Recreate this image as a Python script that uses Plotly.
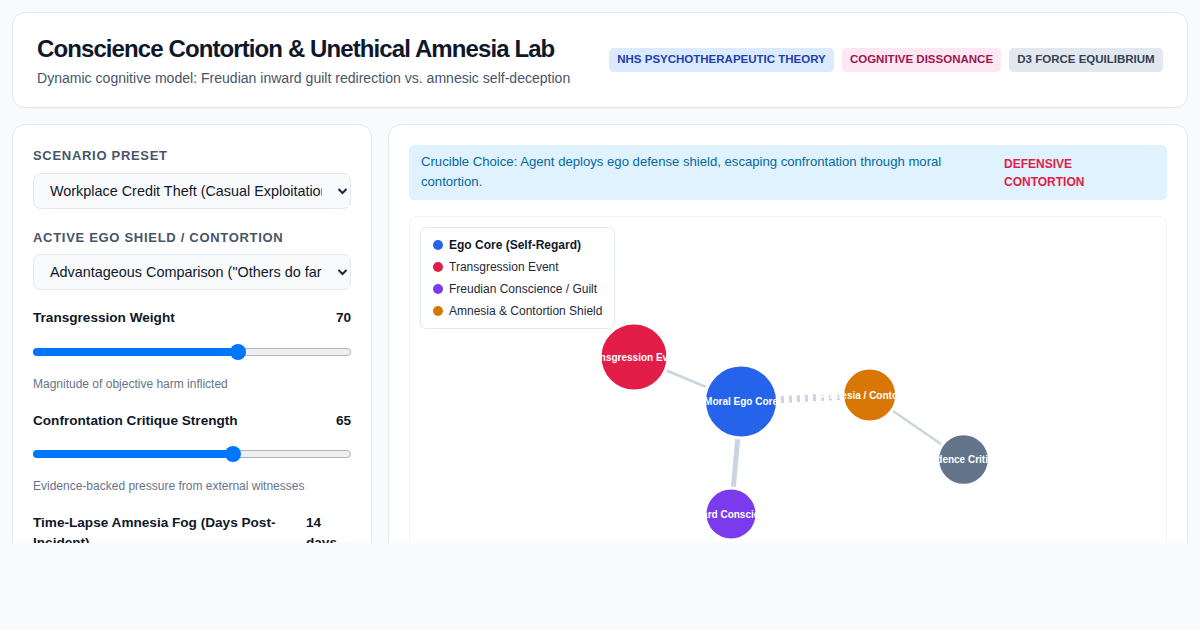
import json
import plotly.graph_objects as go

FONT = "Liberation Sans"
W, H, CUT = 1200, 630, 543

# page text
title = "Conscience Contortion & Unethical Amnesia Lab"
subtitle = "Dynamic cognitive model: Freudian inward guilt redirection vs. amnesic self-deception"
badge_labels = ["NHS PSYCHOTHERAPEUTIC THEORY", "COGNITIVE DISSONANCE", "D3 FORCE EQUILIBRIUM"]
select_labels = ["SCENARIO PRESET", "ACTIVE EGO SHIELD / CONTORTION"]
select_values = ["Workplace Credit Theft (Casual Exploitation)", "Advantageous Comparison (\"Others do far"]
slider_labels = ["Transgression Weight", "Confrontation Critique Strength"]
slider_values = ["70", "65"]
slider_notes = ["Magnitude of objective harm inflicted", "Evidence-backed pressure from external witnesses"]
banner_lines = ["Crucible Choice: Agent deploys ego defense shield, escaping confrontation through moral", "contortion."]
verdict_lines = ["DEFENSIVE", "CONTORTION"]

# network
legend_names = ["Ego Core (Self-Regard)", "Transgression Event", "Freudian Conscience / Guilt", "Amnesia & Contortion Shield"]
legend_colors = ["#2563eb", "#e11d48", "#7c3aed", "#d97706"]
node_names = ["Moral Ego Core", "Transgression Event", "Inward Conscience", "Amnesia / Contortion", "Evidence Critique"]
node_x = [741, 634, 731, 869.7, 963.5]
node_y = [401.5, 357, 514, 395, 459.5]
node_radius = [35, 32.5, 24.5, 25.5, 24.3]
node_colors = ["#2563eb", "#e11d48", "#7c3aed", "#d97706", "#64748b"]
edge_source = [1, 0, 0, 3]
edge_target = [0, 2, 3, 4]
edge_width = [2.5, 5, 7, 2.5]
edge_dash = ["solid", "solid", "3px,5px", "solid"]

# css letter spacing that plotly has no font setting for
spacing = {title: -0.9, select_labels[0]: 0.7, select_labels[1]: 0.7}


def rrect(x0, y0, x1, y1, r, fill, line=None, lw=1, layer="between"):
    path = (f"M{x0+r},{y0} L{x1-r},{y0} Q{x1},{y0} {x1},{y0+r} L{x1},{y1-r} Q{x1},{y1} {x1-r},{y1} "
            f"L{x0+r},{y1} Q{x0},{y1} {x0},{y1-r} L{x0},{y0+r} Q{x0},{y0} {x0+r},{y0} Z")
    return dict(type="path", path=path, xref="x", yref="y", fillcolor=fill, layer=layer,
                line=dict(color=line, width=lw if line else 0))


fig = go.Figure()
shapes = []


def add_text(x, y, text, size, color, bold=False, pos="middle right"):
    fig.add_trace(go.Scatter(x=[x], y=[y], mode="text", text=[text], textposition=pos,
                             textfont=dict(family=FONT, size=size, color=color, weight=700 if bold else 400),
                             hoverinfo="skip", showlegend=False))


# cards, with a faint shadow under each
for x0, y0, x1, y1 in [(12.5, 12.5, 1187.5, 107.5), (12.5, 124.5, 371.5, 700), (388.5, 124.5, 1187.5, 700)]:
    shapes.append(rrect(x0, y0 + 1, x1, y1 + 1, 14, "rgba(15,23,42,0.05)"))
    shapes.append(rrect(x0, y0, x1, y1, 14, "#ffffff", "#e2e8f0"))

# header
add_text(37, 50.5, title, 24, "#0f172a", True)
add_text(37, 79, subtitle, 14.05, "#475569")
badge_x = [(609, 834), (842, 1001), (1009, 1163)]
badge_fill = ["#dbeafe", "#fce7f3", "#e2e8f0"]
badge_ink = ["#1e40af", "#9d174d", "#334155"]
for (x0, x1), lab, fill, ink in zip(badge_x, badge_labels, badge_fill, badge_ink):
    shapes.append(rrect(x0, 48, x1, 72, 5, fill))
    add_text((x0 + x1) / 2, 60, lab, 11.5, ink, True, "middle center")

# dropdowns
for lab, val, ly, y0 in zip(select_labels, select_values, [156.5, 238.5], [173, 254]):
    add_text(33, ly, lab, 13, "#475569", True)
    shapes.append(rrect(33.5, y0 + 0.5, 350.5, y0 + 35.5, 8, "#f8fafc", "#e2e8f0"))
    add_text(50, y0 + 19.5, val, 14.4, "#0f172a")
    # the native select cuts its text off before the arrow
    shapes.append(dict(type="rect", x0=322, x1=349, y0=y0 + 2, y1=y0 + 34, xref="x", yref="y",
                       fillcolor="#f8fafc", line=dict(width=0), layer="above"))
    cy = y0 + 18
    shapes.append(dict(type="path", path=f"M338.5,{cy-2} L342.5,{cy+2} L346.5,{cy-2}", xref="x", yref="y",
                       line=dict(color="#1e293b", width=2), layer="above"))

# sliders
thumb_x = [238, 233]
for lab, val, note, tx, ly, ty, ny in zip(slider_labels, slider_values, slider_notes, thumb_x,
                                          [318.5, 421.5], [352, 454], [384.5, 487]):
    add_text(33, ly, lab, 13.6, "#0f172a", True)
    add_text(351, ly, val, 13.6, "#0f172a", True, "middle left")
    shapes.append(rrect(33.5, ty - 3.5, 350.5, ty + 3.5, 3.5, "#efefef", "#b2b2b2"))
    shapes.append(rrect(33, ty - 4, tx, ty + 4, 4, "#0075ff"))
    shapes.append(dict(type="circle", x0=tx - 8, x1=tx + 8, y0=ty - 8, y1=ty + 8, xref="x", yref="y",
                       fillcolor="#0075ff", line=dict(width=0), layer="between"))
    add_text(33, ny, note, 12, "#64748b")
add_text(33, 524, "Time-Lapse Amnesia Fog (Days Post-", 13.6, "#0f172a", True)
add_text(33, 543.5, "Incident)", 13.6, "#0f172a", True)
add_text(306, 524, "14", 13.6, "#0f172a", True)
add_text(306, 543.5, "days", 13.6, "#0f172a", True)

# banner
shapes.append(rrect(409, 145, 1167, 200, 6, "#e0f2fe"))
for line, y in zip(banner_lines, [163, 183]):
    add_text(421, y, line, 13.13, "#0369a1")
for line, y in zip(verdict_lines, [164.5, 182.5]):
    add_text(1004, y, line, 12, "#e11d48", True)

# graph box and legend box
shapes.append(rrect(409.5, 216.5, 1166.5, 700, 8, "#ffffff", "#f1f5f9"))
shapes.append(rrect(420.5, 227.5, 614.5, 328.5, 6, "#ffffff", "#e2e8f0"))
legend_y = [245, 267, 289, 311]
fig.add_trace(go.Scatter(x=[438] * 4, y=legend_y, mode="markers", hoverinfo="skip", showlegend=False,
                         marker=dict(size=10, color=legend_colors, line=dict(width=0))))
for i, (name, y) in enumerate(zip(legend_names, legend_y)):
    add_text(449, y + 0.5, name, 12, "#0f172a" if i == 0 else "#1e293b", i == 0)

# edges go first so the nodes and their white labels sit on top
for s, t, w, d in zip(edge_source, edge_target, edge_width, edge_dash):
    fig.add_trace(go.Scatter(x=[node_x[s], node_x[t]], y=[node_y[s], node_y[t]], mode="lines",
                             line=dict(color="#cbd5e1", width=w, dash=d), hoverinfo="skip", showlegend=False))
fig.add_trace(go.Scatter(x=node_x, y=node_y, mode="markers",
                         marker=dict(size=[2 * r + 3 for r in node_radius], sizemode="diameter", color=node_colors,
                                     opacity=1, line=dict(color="#ffffff", width=3)),
                         hoverinfo="skip", showlegend=False))
fig.add_trace(go.Scatter(x=node_x, y=[v + 1.2 for v in node_y], mode="text", text=node_names,
                         textposition="middle center",
                         textfont=dict(family=FONT, size=10, color="#ffffff", weight=700),
                         hoverinfo="skip", showlegend=False))

fig.update_layout(width=W, height=H, autosize=False, margin=dict(l=0, r=0, t=0, b=H - CUT, pad=0),
                  paper_bgcolor="#f8fafc", plot_bgcolor="#f8fafc", shapes=shapes, hovermode=False,
                  showlegend=False, font=dict(family=FONT),
                  xaxis=dict(range=[0, W], visible=False, fixedrange=True),
                  yaxis=dict(range=[CUT, 0], visible=False, fixedrange=True))

post = """
document.body.style.margin='0';document.body.style.background='#f8fafc';
var sp=%s;
document.querySelectorAll('svg.main-svg').forEach(function(s){s.style.textRendering='auto';});
document.querySelectorAll('svg.main-svg text').forEach(function(t){
  t.style.textRendering='auto';
  if(sp[t.textContent]!==undefined){t.style.letterSpacing=sp[t.textContent]+'px';}
});
""" % json.dumps(spacing)
fig.write_html("out.html", config={"displayModeBar": False}, post_script=post)
